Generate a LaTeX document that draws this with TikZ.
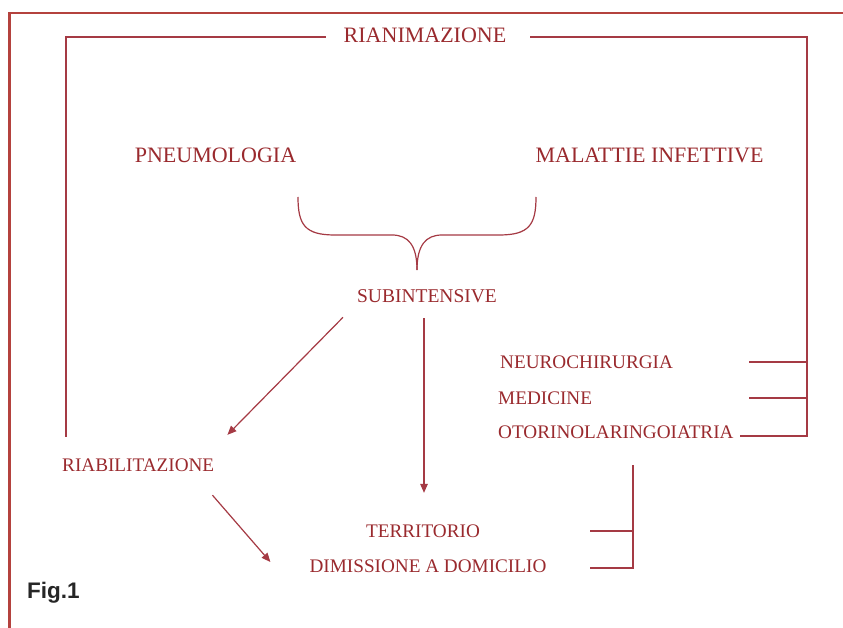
\documentclass[tikz,border=0pt]{standalone}
\usepackage{fontspec}
\setmainfont{Liberation Serif}
\newfontfamily\figfont{Liberation Sans}
\usetikzlibrary{arrows.meta,calc}
\definecolor{txtred}{HTML}{9A2A2E}
\definecolor{linered}{HTML}{A53A44}
\definecolor{framered}{HTML}{B4423E}
\begin{document}
\begin{tikzpicture}[x=1pt,y=-1pt,
  big/.style={inner sep=0pt,text=txtred,font=\fontsize{22}{24}\selectfont},
  lab/.style={inner sep=0pt,text=txtred,font=\fontsize{19.2}{20}\selectfont},
  ln/.style={draw=linered,line width=1.2pt},
  arr/.style={ln,-{Triangle[length=9pt,width=7.5pt]}}]
\useasboundingbox (0,0) rectangle (843,628);
\fill[white] (0,0) rectangle (843,628);
% frame
\draw[framered,line width=2.4pt] (843,13) -- (9.5,13) -- (9.5,628);
% nodes
\node[big] (rian) at (425,35.5) {RIANIMAZIONE};
\node[big] (pneu) at (215.5,155) {PNEUMOLOGIA};
\node[big] (mal) at (649.5,155) {MALATTIE INFETTIVE};
\node[lab,font=\fontsize{19.5}{20}\selectfont] (sub) at (427,296) {SUBINTENSIVE};
\node[lab,anchor=west] (neuro) at (500,362) {NEUROCHIRURGIA};
\node[lab,anchor=west] (med) at (498,398) {MEDICINE};
\node[lab,anchor=west] (oto) at (498,432) {OTORINOLARINGOIATRIA};
\node[lab,anchor=west] (riab) at (62,465) {RIABILITAZIONE};
\node[lab] (terr) at (423,531) {TERRITORIO};
\node[lab] (dim) at (428,566) {DIMISSIONE A DOMICILIO};
\node[inner sep=0pt,anchor=west,text=black!85,font=\figfont\bfseries\fontsize{22.5}{24}\selectfont] (fig) at (27,593) {Fig.1};
% coordinates for bracket corners
\coordinate (lb) at (66,437);
\coordinate (rb) at (807,436);
\coordinate (rl) at (749,0);
\coordinate (tb) at (633,465);
\coordinate (bb) at (633,568);
\coordinate (bl) at (590,0);
% RIANIMAZIONE bracket
\draw[ln] ([xshift=-18pt,yshift=-1.5pt]rian.west) -| (lb);
\draw[ln] ([xshift=24pt,yshift=-1.5pt]rian.east) -| (rb) -- ([xshift=6pt]oto.east |- rb);
\draw[ln] (neuro.east -| rl) -- (neuro.east -| rb);
\draw[ln] (med.east -| rl) -- (med.east -| rb);
% brace
\draw[ln] (298,197) .. controls (298,225) and (305,235) .. (335,235) -- (392,235)
  .. controls (408,235) and (417,245) .. (417,270);
\draw[ln] (536,197) .. controls (536,225) and (529,235) .. (499,235) -- (442,235)
  .. controls (426,235) and (417,245) .. (417,270);
% arrows
\draw[arr] ([xshift=-84pt,yshift=-14.5pt]sub.south) -- ([xshift=13pt,yshift=23.5pt]riab.north east);
\draw[arr] ([xshift=-3pt,yshift=-15.5pt]sub.south) -- ([xshift=1pt,yshift=31.5pt]terr.north);
\draw[arr] ([xshift=-2pt,yshift=-23.5pt]riab.south east) -- ([xshift=-39pt,yshift=4pt]dim.west);
% territorio bracket
\draw[ln] (tb) -- (bb) -- (bb -| bl);
\draw[ln] (terr.east -| tb) -- (terr.east -| bl);
\end{tikzpicture}
\end{document}
